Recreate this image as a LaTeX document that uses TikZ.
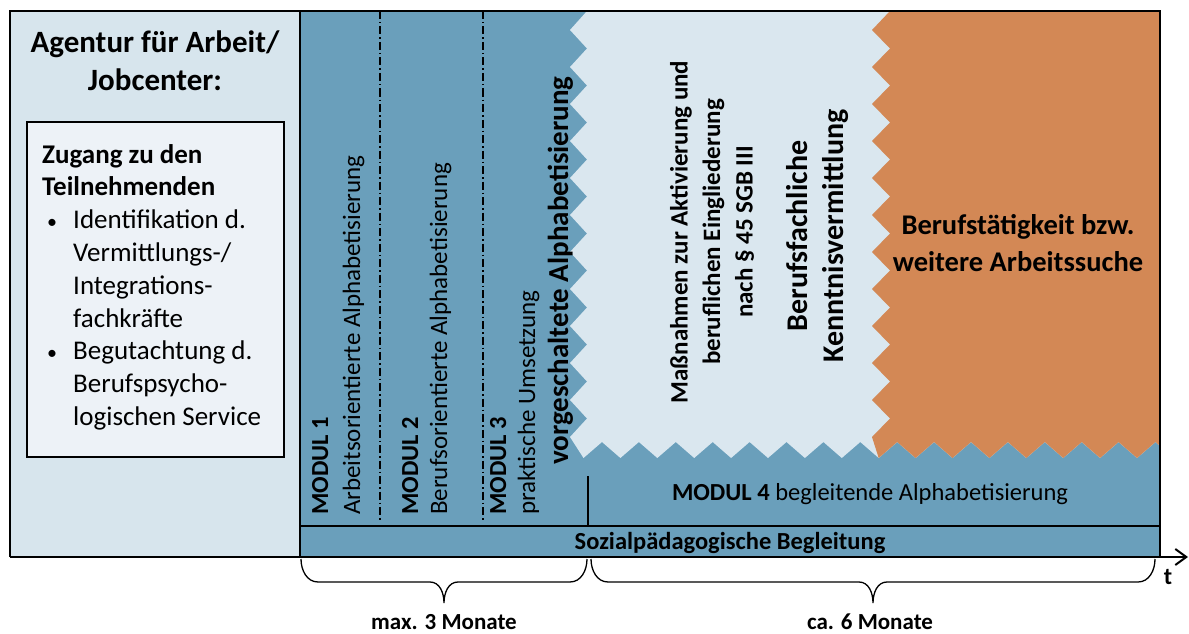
\documentclass[tikz,border=0pt]{standalone}
\usepackage{fontspec}
\setmainfont{Carlito}
\usetikzlibrary{arrows.meta}
\definecolor{bandblue}{HTML}{6A9FBB}
\definecolor{lightzone}{HTML}{DAE7EF}
\definecolor{leftpanel}{HTML}{D7E5ED}
\definecolor{innerbox}{HTML}{EDF2F7}
\definecolor{orangezone}{HTML}{D38855}
\newcommand{\fs}[2]{\fontsize{#1}{#2}\selectfont}
\newcommand{\bul}{\hspace*{5pt}\makebox[26pt][l]{\fs{20}{20}•}}
\tikzset{
  frame/.style={line width=2.2pt, draw=black},
  thinline/.style={line width=1.3pt, draw=black},
  dashdot/.style={line width=1.4pt, dash pattern=on 8pt off 3pt on 1.5pt off 3pt},
  vlabel/.style={rotate=90, anchor=base west, inner sep=0pt},
  vcenter/.style={rotate=90, align=center, inner sep=0pt},
  bracestyle/.style={line width=1.3pt},
}
\begin{document}
\begin{tikzpicture}[x=1pt,y=-1pt]
\useasboundingbox (0,0) rectangle (1189,634);
% backgrounds
\fill[leftpanel] (10,11) rectangle (300,557);
\fill[bandblue] (300,11) rectangle (1160,557);
% light zone with zigzag edges
\fill[lightzone] (587,11) -- (570,30)
  \foreach \k in {1,...,11}{ -- (587,{11.5+37*\k}) -- (570,{30+37*\k}) }
  \foreach \j in {0,...,15}{ -- ({583.5+36.9*\j},458) -- ({602+36.9*\j},442) }
  -- (1160,446) -- (1160,11) -- cycle;
% orange zone
\fill[orangezone] (890,11) -- (872,30)
  \foreach \k in {1,...,11}{ -- (890,{11.5+37*\k}) -- (872,{30+37*\k}) }
  \foreach \j in {8,...,15}{ -- ({583.5+36.9*\j},458) -- ({602+36.9*\j},442) }
  -- (1160,446) -- (1160,11) -- cycle;
% inner box
\node[draw=black, line width=1.5pt, fill=innerbox, minimum width=257pt, minimum height=335pt, anchor=north west, inner sep=0pt] (box) at (26,121) {};
% lines
\draw[dashdot] (380,11) -- (380,522);
\draw[dashdot] (483,11) -- (483,522);
\draw[thinline] (300,526) -- (1160,526);
\draw[thinline] (588,476) -- (588,526);
\draw[frame] (300,11) -- (300,557);
\draw[frame] (10,557) -- (10,11) -- (1160,11) -- (1160,557);
\coordinate (axstart) at (10,557);
\coordinate (axend) at (1188,557);
\draw[line width=2.2pt, -{Straight Barb[length=11pt,width=16pt,line width=2pt]}] (axstart) -- (axend);
% left panel texts
\node[align=center, font=\fs{31}{38}\bfseries, inner sep=0pt] (title) at (155,61) {Agentur für Arbeit/\\Jobcenter:};
\node[align=left, anchor=north west, font=\fs{27}{32.8}, inner sep=0pt] (zugang) at (42,144)
 {\textbf{Zugang zu den}\\
  \textbf{Teilnehmenden}\\
  \bul Identifikation d.\\
  \hspace*{31pt}Vermittlungs-/\\
  \hspace*{31pt}Integrations-\\
  \hspace*{31pt}fachkräfte\\
  \bul Begutachtung d.\\
  \hspace*{31pt}Berufspsycho-\\
  \hspace*{31pt}logischen Service};
% module texts
\node[vlabel, font=\fs{24.5}{28}\bfseries] (m1) at (328,515) {MODUL 1};
\node[vlabel, font=\fs{25}{28}] (m1t) at (360,515) {Arbeitsorientierte\ Alphabetisierung};
\node[vlabel, font=\fs{24.5}{28}\bfseries] (m2) at (418,515) {MODUL 2};
\node[vlabel, font=\fs{25}{28}] (m2t) at (447,515) {Berufsorientierte Alphabetisierung};
\node[vlabel, font=\fs{24.5}{28}\bfseries] (m3) at (506,515) {MODUL 3};
\node[vlabel, font=\fs{25}{28}] (m3t) at (535,515) {praktische Umsetzung};
\node[vlabel, font=\fs{29}{32}\bfseries] (vorg) at (568,465) {vorgeschaltete Alphabetisierung};
% middle texts
\node[vcenter, font=\fs{25}{32.5}\bfseries] (mass) at (712,232) {Maßnahmen zur Aktivierung und\\beruflichen Eingliederung\\nach § 45 SGB III};
\node[vcenter, font=\fs{30}{36}\bfseries] (beruf) at (818,236) {Berufsfachliche\\Kenntnisvermittlung};
\node[align=center, font=\fs{28.5}{37}\bfseries, inner sep=0pt] (taetig) at (1018,243) {Berufstätigkeit bzw.\\weitere Arbeitssuche};
\node[font=\fs{24.5}{28}, inner sep=0pt] (m4) at (870,494) {\textbf{MODUL 4} begleitende Alphabetisierung};
\node[font=\fs{24.5}{28}\bfseries, inner sep=0pt] (sozial) at (730,543) {Sozialpädagogische Begleitung};
% braces
\draw[bracestyle] (301,559) to[out=-90,in=180] (318,582) -- (430,582) to[out=0,in=90] (444,603) to[out=90,in=180] (458,582) -- (570,582) to[out=0,in=-90] (587,559);
\draw[bracestyle] (591,559) to[out=-90,in=180] (608,582) -- (859,582) to[out=0,in=90] (873,603) to[out=90,in=180] (887,582) -- (1138,582) to[out=0,in=-90] (1155,559);
\node[font=\fs{23}{26}\bfseries, inner sep=0pt] (max3) at (444,622) {max. 3 Monate};
\node[font=\fs{23}{26}\bfseries, inner sep=0pt] (ca6) at (870,622) {ca. 6 Monate};
\node[font=\fs{24}{28}\bfseries, inner sep=0pt] (tlab) at (1168,577) {t};
\end{tikzpicture}
\end{document}
